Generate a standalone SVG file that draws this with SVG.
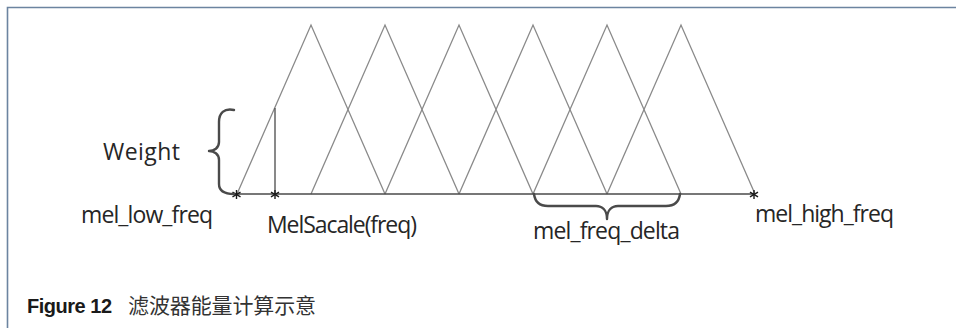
<svg xmlns="http://www.w3.org/2000/svg" width="956" height="328" viewBox="0 0 956 328">
  <defs>
    <style>
      .frame { fill: none; stroke: #6c84a0; stroke-width: 1.6; }
      .tri { fill: none; stroke: #8a8a8a; stroke-width: 1.3; stroke-linejoin: miter; }
      .axis { fill: none; stroke: #4a4a4a; stroke-width: 1.3; }
      .brace { fill: none; stroke: #4a4a4a; stroke-width: 2.4; stroke-linecap: round; stroke-linejoin: round; }
      .star { fill: none; stroke: #1a1a1a; stroke-width: 1.4; }
      .lbl { font-family: "Open Sans", "Liberation Sans", sans-serif; font-size: 23px; fill: #262626; }
      .cap { font-family: "Liberation Sans", "Noto Sans CJK SC", sans-serif; font-size: 20px; fill: #1a1a1a; }
      .capcn { font-family: "Noto Sans CJK SC", sans-serif; font-size: 21px; fill: #333; }
    </style>
    <g id="asterisk">
      <line class="star" x1="0" y1="-4.5" x2="0" y2="4.5"/>
      <line class="star" x1="-4" y1="-2.3" x2="4" y2="2.3"/>
      <line class="star" x1="-4" y1="2.3" x2="4" y2="-2.3"/>
    </g>
  </defs>

  <!-- figure frame (top and left edges) -->
  <path class="frame" d="M 7.5 328 L 7.5 7.5 L 956 7.5"/>

  <!-- triangular mel filters -->
  <g id="filters">
    <polyline class="tri" points="237,194 311,25 385,194"/>
    <polyline class="tri" points="311,194 385,25 459,194"/>
    <polyline class="tri" points="385,194 459,25 533,194"/>
    <polyline class="tri" points="459,194 533,25 607,194"/>
    <polyline class="tri" points="533,194 607,25 681,194"/>
    <polyline class="tri" points="607,194 681,25 755,194"/>
  </g>

  <!-- frequency axis and weight marker -->
  <g id="connectors">
    <line class="axis" x1="236" y1="194" x2="754" y2="194"/>
    <line class="axis" x1="275" y1="108" x2="275" y2="194" stroke-width="1"/>
  </g>

  <g id="points">
    <use href="#asterisk" x="236.5" y="194.5"/>
    <use href="#asterisk" x="275" y="194.5"/>
    <use href="#asterisk" x="754" y="194.5"/>
  </g>

  <!-- weight brace -->
  <g id="weight">
    <path class="brace" d="M 234 110 C 224 108, 219 113, 219 122 L 219 142 C 219 148, 214 151, 209 151 C 214 151, 219 154, 219 160 L 219 184 C 219 191, 224 194, 234 194"/>
    <text class="lbl" x="103" y="160" font-size="25" textLength="77">Weight</text>
  </g>

  <!-- delta brace -->
  <g id="delta">
    <path class="brace" d="M 534 194 C 535 202, 539 206, 548 206 L 596 206 C 602 206, 607 210, 607 219 C 607 210, 612 206, 618 206 L 666 206 C 675 206, 679 202, 680 194"/>
    <text class="lbl" x="533" y="239" textLength="147">mel_freq_delta</text>
  </g>

  <g id="low">
    <text class="lbl" x="81" y="223" textLength="132">mel_low_freq</text>
  </g>
  <g id="freq">
    <text class="lbl" x="267" y="233" textLength="150">MelSacale(freq)</text>
  </g>
  <g id="high">
    <text class="lbl" x="755" y="222" textLength="139">mel_high_freq</text>
  </g>

  <!-- caption -->
  <g id="caption">
    <text class="cap" x="27" y="313" font-weight="bold" textLength="85">Figure 12</text>
    <text class="capcn" x="128" y="313" textLength="188">滤波器能量计算示意</text>
  </g>
</svg>
